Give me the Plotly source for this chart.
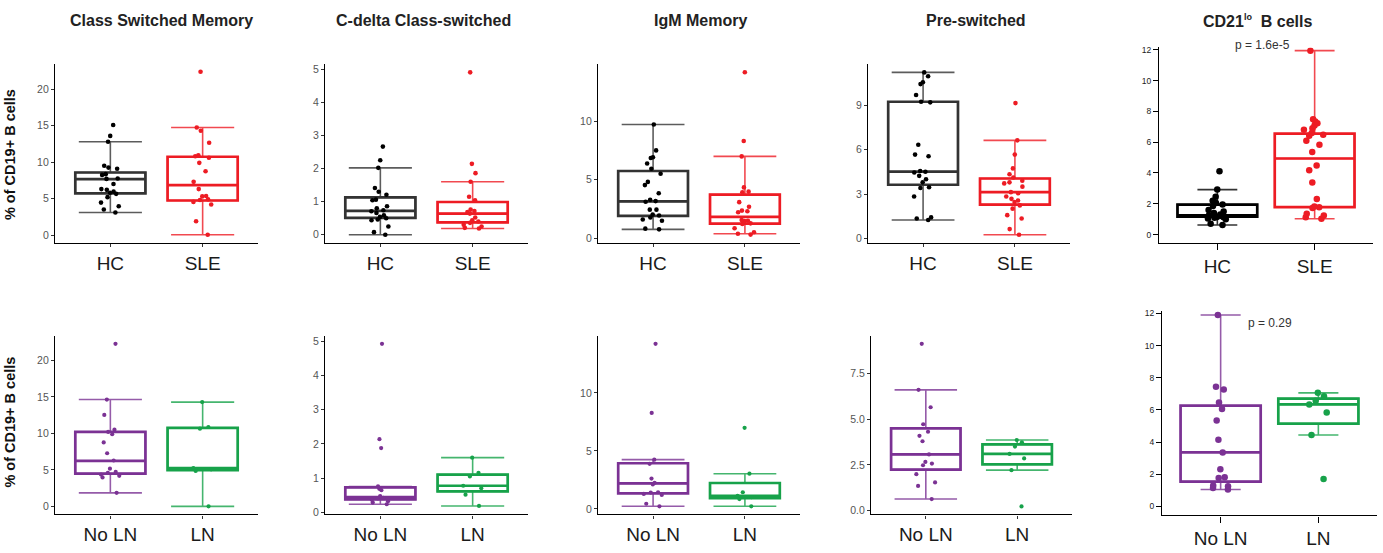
import plotly.graph_objects as go

W, H = 1383, 553

# ---------------- data: % of CD19+ B cells per donor ----------------
TOP_GROUPS = ["HC", "SLE"]
BOTTOM_GROUPS = ["No LN", "LN"]

PANEL_TITLES = ["Class Switched Memory", "C-delta Class-switched", "IgM Memory",
                "Pre-switched", "CD21<sup><span style='font-size:9px'>lo</span></sup>  B cells"]
Y_TITLE = "% of CD19+ B cells"
P_TOP = "p = 1.6e-5"
P_BOTTOM = "p = 0.29"

# Class switched memory
csm_hc = [15.1, 13.6, 12.8, 9.5, 9.25, 9.1, 8.35, 8.25, 7.75, 7.7, 7.0, 6.3, 6.2,
          5.95, 5.8, 5.65, 5.2, 4.45, 3.95, 3.5, 3.1]
csm_sle = [22.4, 14.75, 14.3, 12.65, 10.95, 10.8, 10.6, 9.9, 8.75, 7.3, 6.3, 5.35,
           5.3, 4.9, 4.8, 4.55, 4.2, 1.9, 0.05]
csm_noln = [22.29, 14.65, 12.54, 10.52, 10.2, 9.89, 8.76, 7.28, 6.29, 5.17, 4.72,
            4.58, 4.36, 4.18, 3.96, 1.85]
csm_ln = [14.3, 10.88, 10.65, 5.26, 5.08, 4.85, 0.0]

# C-delta class-switched
cd_hc = [2.66, 2.25, 2.02, 1.41, 1.3, 1.21, 1.06, 1.04, 0.86, 0.8, 0.74, 0.71, 0.66,
         0.59, 0.54, 0.5, 0.46, 0.44, 0.25, 0.08, 0.0]
cd_sle = [4.9, 2.14, 1.86, 1.6, 1.15, 1.04, 0.76, 0.72, 0.69, 0.64, 0.52, 0.44, 0.4,
          0.36, 0.3, 0.25, 0.21, 0.19]
cd_noln = [4.92, 2.14, 1.88, 0.76, 0.69, 0.65, 0.48, 0.43, 0.41, 0.37, 0.33, 0.29, 0.24]
cd_ln = [1.6, 1.16, 1.05, 0.78, 0.71, 0.52, 0.19]

# IgM memory
igm_hc = [9.7, 7.49, 6.9, 6.84, 6.37, 5.92, 5.5, 4.8, 4.53, 3.83, 3.27, 3.16, 3.1,
          2.43, 2.43, 2.01, 1.93, 1.76, 1.59, 1.48, 0.81, 0.75]
igm_sle = [14.16, 8.3, 6.98, 4.33, 3.97, 3.91, 3.07, 2.68, 2.35, 2.29, 2.21, 1.54,
           1.48, 1.45, 1.26, 1.2, 0.84, 0.5, 0.38, 0.3]
igm_noln = [14.23, 8.28, 4.25, 3.89, 2.62, 2.25, 2.11, 1.44, 1.41, 1.3, 1.21, 0.45, 0.23]
igm_ln = [6.99, 3.04, 1.44, 1.13, 1.01, 0.85, 0.23]

# Pre-switched
pre_hc = [11.2, 10.94, 10.54, 10.41, 9.68, 9.22, 9.18, 6.32, 5.66, 5.55, 4.56, 4.51,
          4.45, 4.23, 4.0, 3.79, 3.46, 3.41, 2.84, 1.43, 1.36, 1.25]
pre_sle = [9.13, 6.62, 5.66, 4.73, 4.34, 4.12, 3.9, 3.79, 3.72, 3.5, 3.13, 3.06, 2.84,
           2.68, 2.57, 2.46, 2.24, 2.02, 1.58, 1.36, 0.64, 0.26]
pre_noln = [9.12, 6.6, 5.65, 4.72, 4.31, 4.09, 3.79, 3.07, 2.66, 2.57, 2.48, 1.99,
            1.54, 1.35, 0.63]
pre_ln = [3.86, 3.73, 3.5, 3.1, 2.85, 2.21, 0.23]

# CD21lo B cells
cd21_hc = [4.12, 2.92, 2.45, 2.2, 2.05, 1.95, 1.85, 1.6, 1.5, 1.4, 1.3, 1.25, 1.25,
           1.2, 1.15, 1.12, 1.1, 1.05, 1.0, 0.7, 0.62]
cd21_sle = [11.94, 7.49, 7.34, 7.23, 7.08, 6.91, 6.8, 6.59, 6.48, 6.42, 6.1, 5.84,
            5.37, 4.49, 4.17, 3.38, 2.31, 1.82, 1.78, 1.73, 1.35, 1.24, 1.13, 1.03]
cd21_noln = [11.9, 7.44, 7.26, 6.46, 6.06, 5.34, 4.14, 3.34, 2.3, 1.8, 1.76, 1.3,
             1.24, 1.14, 1.04]
cd21_ln = [7.06, 6.84, 6.56, 6.34, 5.84, 4.44, 1.7]

# box summaries: [q1, median, q3, lower whisker, upper whisker]
csm_hc_box = [5.73, 7.67, 8.58, 3.1, 12.8]
csm_sle_box = [4.74, 6.86, 10.74, 0.05, 14.75]
csm_noln_box = [4.49, 6.25, 10.2, 1.85, 14.65]
csm_ln_box = [4.97, 5.26, 10.77, 0.0, 14.3]

cd_hc_box = [0.51, 0.72, 1.13, 0.0, 2.02]
cd_sle_box = [0.375, 0.64, 0.99, 0.19, 1.6]
cd_noln_box = [0.38, 0.45, 0.73, 0.24, 0.76]
cd_ln_box = [0.615, 0.78, 1.105, 0.19, 1.6]

igm_hc_box = [1.9, 3.13, 5.73, 0.75, 9.7]
igm_sle_box = [1.23, 1.82, 3.72, 0.38, 6.98]
igm_noln_box = [1.35, 2.2, 3.94, 0.23, 4.25]
igm_ln_box = [0.93, 1.13, 2.24, 0.23, 3.04]

pre_hc_box = [3.63, 4.51, 9.22, 1.25, 11.2]
pre_sle_box = [2.29, 3.13, 4.05, 0.26, 6.62]
pre_noln_box = [2.24, 3.07, 4.5, 0.63, 6.6]
pre_ln_box = [2.53, 3.1, 3.615, 2.21, 3.86]

cd21_hc_box = [1.16, 1.25, 1.95, 0.62, 2.92]
cd21_sle_box = [1.78, 4.94, 6.55, 1.03, 11.94]
cd21_noln_box = [1.54, 3.36, 6.26, 1.04, 11.9]
cd21_ln_box = [5.14, 6.34, 6.7, 4.44, 7.06]

# y tick values per column
ticks_csm = [0, 5, 10, 15, 20]
ticks_cd = [0, 1, 2, 3, 4, 5]
ticks_igm = [0, 5, 10]
ticks_pre_top = [0, 3, 6, 9]
ticks_pre_bottom = [0.0, 2.5, 5.0, 7.5]
ticks_cd21 = [0, 2, 4, 6, 8, 10, 12]

# ---------------- styling ----------------
FONT = "Liberation Sans, Arial, sans-serif"
C_HC_BOX, C_HC_PT = "#333333", "#000000"
C_SLE = "#ED1C24"
C_NOLN = "#7B3294"
C_LN = "#17A24A"


def fade(hex_col, a):
    h = hex_col.lstrip("#")
    r, g, b = int(h[0:2], 16), int(h[2:4], 16), int(h[4:6], 16)
    return f"rgba({r},{g},{b},{a})"


# panel frames in pixels: left, right, top, bottom
panels = [
    dict(groups=TOP_GROUPS, vals=[csm_hc, csm_sle], boxes=[csm_hc_box, csm_sle_box],
         box_cols=[C_HC_BOX, C_SLE], pt_cols=[C_HC_PT, C_SLE], yr=[-1.08, 23.43],
         ticks=ticks_csm, frame=(55, 258, 62, 243), style="gg"),
    dict(groups=TOP_GROUPS, vals=[cd_hc, cd_sle], boxes=[cd_hc_box, cd_sle_box],
         box_cols=[C_HC_BOX, C_SLE], pt_cols=[C_HC_PT, C_SLE], yr=[-0.245, 5.145],
         ticks=ticks_cd, frame=(325, 528, 62, 243), style="gg"),
    dict(groups=TOP_GROUPS, vals=[igm_hc, igm_sle], boxes=[igm_hc_box, igm_sle_box],
         box_cols=[C_HC_BOX, C_SLE], pt_cols=[C_HC_PT, C_SLE], yr=[-0.41, 14.85],
         ticks=ticks_igm, frame=(598, 800, 62, 243), style="gg"),
    dict(groups=TOP_GROUPS, vals=[pre_hc, pre_sle], boxes=[pre_hc_box, pre_sle_box],
         box_cols=[C_HC_BOX, C_SLE], pt_cols=[C_HC_PT, C_SLE], yr=[-0.29, 11.75],
         ticks=ticks_pre_top, frame=(868, 1070, 62, 243), style="gg"),
    dict(groups=TOP_GROUPS, vals=[cd21_hc, cd21_sle], boxes=[cd21_hc_box, cd21_sle_box],
         box_cols=["#000000", C_SLE], pt_cols=["#000000", C_SLE], yr=[-0.54, 12.15],
         ticks=ticks_cd21, frame=(1159, 1373, 45, 243), style="pubr"),
    dict(groups=BOTTOM_GROUPS, vals=[csm_noln, csm_ln], boxes=[csm_noln_box, csm_ln_box],
         box_cols=[C_NOLN, C_LN], pt_cols=[C_NOLN, C_LN], yr=[-1.11, 23.4],
         ticks=ticks_csm, frame=(55, 258, 337, 518), style="gg"),
    dict(groups=BOTTOM_GROUPS, vals=[cd_noln, cd_ln], boxes=[cd_noln_box, cd_ln_box],
         box_cols=[C_NOLN, C_LN], pt_cols=[C_NOLN, C_LN], yr=[-0.057, 5.157],
         ticks=ticks_cd, frame=(325, 528, 337, 518), style="gg"),
    dict(groups=BOTTOM_GROUPS, vals=[igm_noln, igm_ln], boxes=[igm_noln_box, igm_ln_box],
         box_cols=[C_NOLN, C_LN], pt_cols=[C_NOLN, C_LN], yr=[-0.47, 14.93],
         ticks=ticks_igm, frame=(598, 800, 337, 518), style="gg"),
    dict(groups=BOTTOM_GROUPS, vals=[pre_noln, pre_ln], boxes=[pre_noln_box, pre_ln_box],
         box_cols=[C_NOLN, C_LN], pt_cols=[C_NOLN, C_LN], yr=[-0.21, 9.56],
         ticks=ticks_pre_bottom, tickformat=".1f", frame=(871, 1072, 337, 518), style="gg"),
    dict(groups=BOTTOM_GROUPS, vals=[cd21_noln, cd21_ln], boxes=[cd21_noln_box, cd21_ln_box],
         box_cols=[C_NOLN, C_LN], pt_cols=[C_NOLN, C_LN], yr=[-0.57, 12.15],
         ticks=ticks_cd21, frame=(1162, 1377, 312, 519), style="pubr"),
]

fig = go.Figure()
layout_axes = {}

for i, p in enumerate(panels, start=1):
    xa = "x" if i == 1 else f"x{i}"
    ya = "y" if i == 1 else f"y{i}"
    l, r, t, b = p["frame"]
    gg = p["style"] == "gg"
    bw = 0.76 if gg else 0.82
    ww = 0.9 if gg else 0.5
    top_row = p["groups"] is TOP_GROUPS
    psize = (4.6 if top_row else 4.2) if gg else 6.5

    for g, vals, bx, bc, pc in zip(p["groups"], p["vals"], p["boxes"],
                                   p["box_cols"], p["pt_cols"]):
        q1, med, q3, lo, hi = bx
        # whiskers with caps (thin)
        fig.add_trace(go.Box(
            x=[g], q1=[q1], median=[med], q3=[q3], lowerfence=[lo], upperfence=[hi],
            boxpoints=False, width=bw, whiskerwidth=ww,
            line=dict(color=fade(bc, 0.8), width=1.6), fillcolor="rgba(0,0,0,0)",
            xaxis=xa, yaxis=ya, showlegend=False, hoverinfo="skip"))
        # box body and median (thick)
        fig.add_trace(go.Box(
            x=[g], q1=[q1], median=[med], q3=[q3], lowerfence=[q1], upperfence=[q3],
            boxpoints=False, width=bw, whiskerwidth=0,
            line=dict(color=bc, width=2.7), fillcolor="rgba(0,0,0,0)",
            xaxis=xa, yaxis=ya, showlegend=False, hoverinfo="skip"))
        # jittered donor points
        fig.add_trace(go.Box(
            x=[g] * len(vals), y=vals, boxpoints="all", jitter=0.35, pointpos=0,
            width=bw, line=dict(color="rgba(0,0,0,0)", width=0),
            fillcolor="rgba(0,0,0,0)", marker=dict(color=pc, size=psize),
            xaxis=xa, yaxis=ya, showlegend=False))

    xkey = "xaxis" if i == 1 else f"xaxis{i}"
    ykey = "yaxis" if i == 1 else f"yaxis{i}"
    layout_axes[xkey] = dict(
        domain=[l / W, r / W], anchor=ya, type="category",
        categoryorder="array", categoryarray=p["groups"], range=[-0.6, 1.6],
        showline=True, linecolor="#000000", linewidth=1.3, mirror=False,
        ticks="outside", ticklen=3 if gg else 6, tickcolor="#333333" if gg else "#000000",
        tickwidth=1, showgrid=False, zeroline=False,
        tickfont=dict(family=FONT, size=19, color="#1a1a1a"), fixedrange=True)
    yax = dict(
        domain=[1 - b / H, 1 - t / H], anchor=xa, range=p["yr"],
        tickmode="array", tickvals=p["ticks"],
        showline=True, linecolor="#000000", linewidth=1.3,
        ticks="outside", ticklen=3 if gg else 5, tickcolor="#333333" if gg else "#000000",
        tickwidth=1, showgrid=False, zeroline=False,
        tickfont=dict(family=FONT, size=10.5 if gg else 8.5,
                      color="#555555" if gg else "#222222"),
        fixedrange=True)
    if "tickformat" in p:
        yax["tickformat"] = p["tickformat"]
    layout_axes[ykey] = yax

annotations = []
title_centres = [161, 423, 700, 976, 1257]
for txt, cx in zip(PANEL_TITLES, title_centres):
    annotations.append(dict(
        text=f"<b>{txt}</b>", x=cx / W, y=1 - 18 / H, xref="paper", yref="paper",
        xanchor="center", yanchor="middle", showarrow=False,
        font=dict(family=FONT, size=16, color="#222222")))
for cy in (154, 425):
    annotations.append(dict(
        text=f"<b>{Y_TITLE}</b>", x=10 / W, y=1 - cy / H, xref="paper", yref="paper",
        xanchor="center", yanchor="middle", textangle=-90, showarrow=False,
        font=dict(family=FONT, size=14.5, color="#111111")))
annotations.append(dict(
    text=P_TOP, x=1262 / W, y=1 - 43 / H, xref="paper", yref="paper",
    xanchor="center", yanchor="middle", showarrow=False,
    font=dict(family=FONT, size=12, color="#333333")))
annotations.append(dict(
    text=P_BOTTOM, x=1270 / W, y=1 - 324 / H, xref="paper", yref="paper",
    xanchor="center", yanchor="middle", showarrow=False,
    font=dict(family=FONT, size=12, color="#333333")))

fig.update_layout(
    width=W, height=H, margin=dict(l=0, r=0, t=0, b=0),
    paper_bgcolor="white", plot_bgcolor="white",
    boxmode="overlay", showlegend=False,
    annotations=annotations, **layout_axes)

fig.write_html("out.html")
